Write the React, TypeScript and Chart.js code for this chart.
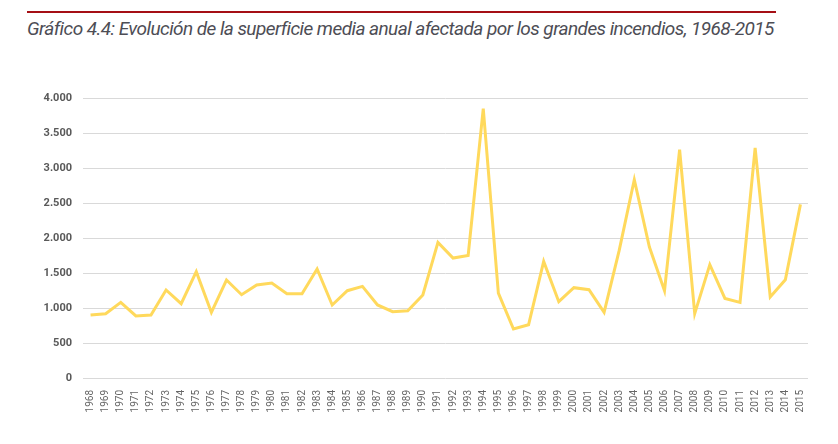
import React, { useEffect, useRef } from "react";
import { Chart, registerables } from "chart.js";

Chart.register(...registerables);

const years: string[] = [
  "1968","1969","1970","1971","1972","1973","1974","1975","1976","1977",
  "1978","1979","1980","1981","1982","1983","1984","1985","1986","1987",
  "1988","1989","1990","1991","1992","1993","1994","1995","1996","1997",
  "1998","1999","2000","2001","2002","2003","2004","2005","2006","2007",
  "2008","2009","2010","2011","2012","2013","2014","2015",
];

const superficieMedia: number[] = [
  900, 919, 1080, 886, 900, 1257, 1061, 1519, 937, 1400,
  1190, 1328, 1357, 1204, 1204, 1557, 1043, 1247, 1309, 1043,
  947, 961, 1186, 1937, 1714, 1752, 3847, 1214, 700, 761,
  1666, 1090, 1290, 1261, 937, 1823, 2833, 1871, 1247, 3261,
  919, 1619, 1137, 1080, 3286, 1157, 1404, 2480,
];

const yTicks: number[] = [0, 500, 1000, 1500, 2000, 2500, 3000, 3500, 4000];

const titleText =
  "Gráfico 4.4: Evolución de la superficie media anual afectada por los grandes incendios, 1968-2015";

function fmt(v: number): string {
  return v.toLocaleString("de-DE");
}

export default function App() {
  const ref = useRef<HTMLCanvasElement | null>(null);

  useEffect(() => {
    if (!ref.current) return;
    const chart = new Chart(ref.current, {
      type: "line",
      data: {
        labels: years,
        datasets: [
          {
            data: superficieMedia,
            borderColor: "#FFD95C",
            borderWidth: 3,
            pointRadius: 0,
            tension: 0,
            fill: false,
          },
        ],
      },
      options: {
        animation: false,
        responsive: false,
        maintainAspectRatio: false,
        layout: { padding: { left: 0, right: 30, top: 98, bottom: 0 } },
        plugins: {
          legend: { display: false },
          tooltip: { enabled: false },
          title: { display: false },
        },
        scales: {
          x: {
            offset: true,
            grid: { display: false },
            border: { display: false },
            ticks: {
              autoSkip: false,
              maxRotation: 90,
              minRotation: 90,
              padding: 4,
              color: "#666666",
              font: { family: "Roboto", size: 10 },
            },
            afterFit: (scale: any) => {
              scale.height = 66;
            },
          },
          y: {
            min: 0,
            max: 4000,
            afterBuildTicks: (scale: any) => {
              scale.ticks = yTicks.map((v) => ({ value: v }));
            },
            grid: { color: "#d9d9d9", lineWidth: 1, drawTicks: false },
            border: { display: false },
            ticks: {
              padding: 11,
              color: "#595959",
              font: { family: "Roboto", size: 11, weight: "bold" },
              callback: (v: any) => fmt(Number(v)),
            },
            afterFit: (scale: any) => {
              scale.width = 83;
            },
          },
        },
      },
    });
    return () => chart.destroy();
  }, []);

  return (
    <div style={{ position: "fixed", left: 0, top: 0, width: 838, height: 444, background: "#ffffff", overflow: "hidden" }}>
      <div style={{ position: "absolute", left: 27, top: 11, width: 749, height: 2, background: "#A50F15" }} />
      <div
        style={{
          position: "absolute",
          left: 27,
          top: 17.5,
          fontFamily: "Roboto",
          fontStyle: "italic",
          fontSize: 19,
          lineHeight: "22px",
          color: "#4d4d55",
          whiteSpace: "nowrap",
          letterSpacing: -0.56,
        }}
      >
        {titleText}
      </div>
      <canvas ref={ref} width={838} height={444} style={{ position: "absolute", left: 0, top: 0 }} />
    </div>
  );
}
